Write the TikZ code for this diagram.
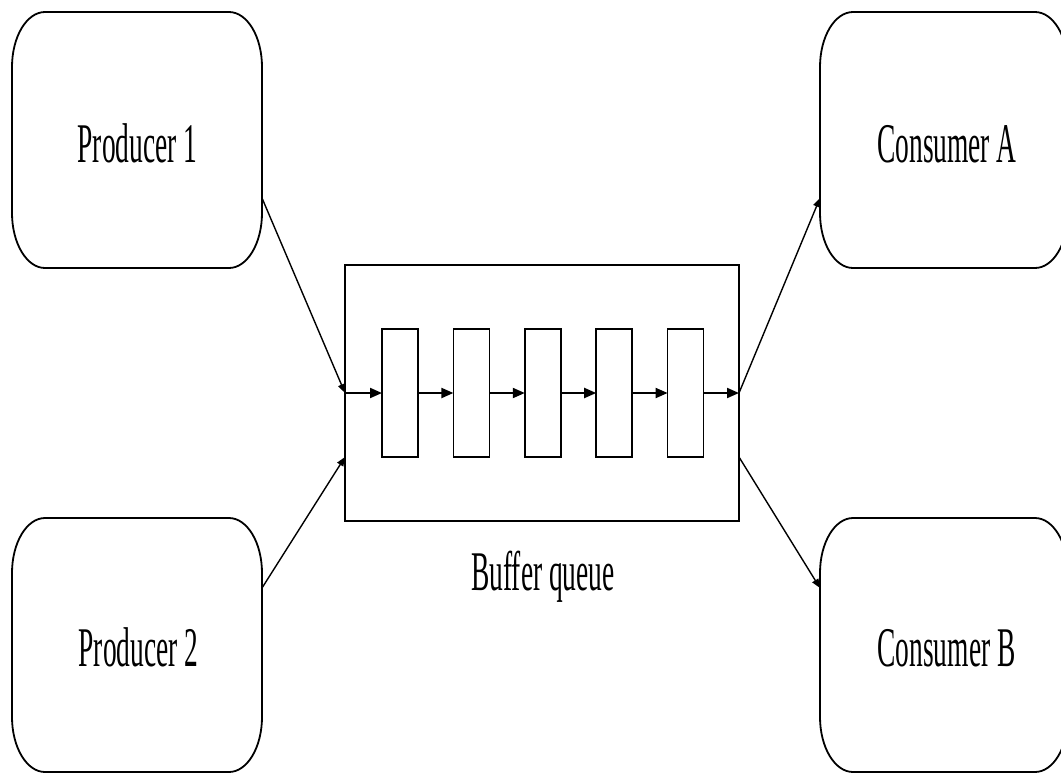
\documentclass[tikz,border=0pt]{standalone}
\usepackage{fontspec}
\setmainfont{Liberation Serif}
\usetikzlibrary{arrows.meta}

% condensed label text
\newcommand\narrow[1]{\scalebox{0.49}[1]{#1}}

% corner radii of the rounded party boxes
\newcommand\crx{33pt}
\newcommand\cry{55pt}

% outline with elliptical corners around a named node
\newcommand\drawcapsule[1]{%
  \draw[boxline] ([xshift=\crx]#1.north west) -- ([xshift=-\crx]#1.north east)
    arc[start angle=90,end angle=0,x radius=\crx,y radius=\cry]
    -- ([yshift=\cry]#1.south east)
    arc[start angle=0,end angle=-90,x radius=\crx,y radius=\cry]
    -- ([xshift=\crx]#1.south west)
    arc[start angle=270,end angle=180,x radius=\crx,y radius=\cry]
    -- ([yshift=-\cry]#1.north west)
    arc[start angle=180,end angle=90,x radius=\crx,y radius=\cry] -- cycle;}

\tikzset{
  boxline/.style={draw=black,line width=1.8pt},
  party/.style={rectangle,inner sep=0pt,outer sep=0pt},
  buffer/.style={rectangle,draw=black,line width=1.8pt,inner sep=0pt,outer sep=0pt,
    minimum width=394pt,minimum height=256pt},
  slot/.style={rectangle,draw=black,line width=1.6pt,inner sep=0pt,outer sep=0pt,
    minimum width=36pt,minimum height=128pt},
  label/.style={anchor=base,inner sep=0pt,font=\fontsize{56}{60}\selectfont},
  flow/.style={line width=2pt,-{Triangle[length=12pt,width=10pt]}},
  link/.style={line width=1.4pt,-{Triangle[length=9pt,width=7pt]}},
}

\begin{document}
\begin{tikzpicture}[x=1pt,y=-1pt]
  \useasboundingbox (0,0) rectangle (1061,772);

  % producers and consumers
  \node[party,minimum width=250pt,minimum height=256pt] (p1) at (137,140) {};
  \node[party,minimum width=250pt,minimum height=254pt] (p2) at (137,645) {};
  \node[party,minimum width=248pt,minimum height=256pt] (ca) at (944,140) {};
  \node[party,minimum width=248pt,minimum height=254pt] (cb) at (944,645) {};
  \drawcapsule{p1}
  \drawcapsule{p2}
  \drawcapsule{ca}
  \drawcapsule{cb}

  \node[label] (p1t) at (137.5,162) {\narrow{Producer 1}};
  \node[label] (p2t) at (138.5,666) {\narrow{Producer 2}};
  \node[label] (cat) at (947,162) {\narrow{Consumer A}};
  \node[label] (cbt) at (946.5,666) {\narrow{Consumer B}};

  % the buffer and its slots
  \node[buffer] (buf) at (542,393) {};
  \foreach \i/\x in {1/400,2/471.4,3/542.8,4/614.2,5/685.6}
    \node[slot] (s\i) at (\x,393) {};
  \node[label] (buft) at (543,590) {\narrow{Buffer queue}};

  % flow through the queue
  \draw[flow] (buf.west) -- (s1.west);
  \draw[flow] (s1.east) -- (s2.west);
  \draw[flow] (s2.east) -- (s3.west);
  \draw[flow] (s3.east) -- (s4.west);
  \draw[flow] (s4.east) -- (s5.west);
  \draw[flow] (s5.east) -- (buf.east);

  % producers feed in, consumers take out
  \draw[link] ([yshift=-58pt]p1.east) -- (buf.west);
  \draw[link] ([yshift=57pt]p2.east) -- ([yshift=-64pt]buf.west);
  \draw[link] (buf.east) -- ([yshift=-58pt]ca.west);
  \draw[link] ([yshift=-64pt]buf.east) -- ([yshift=57pt]cb.west);
\end{tikzpicture}
\end{document}
